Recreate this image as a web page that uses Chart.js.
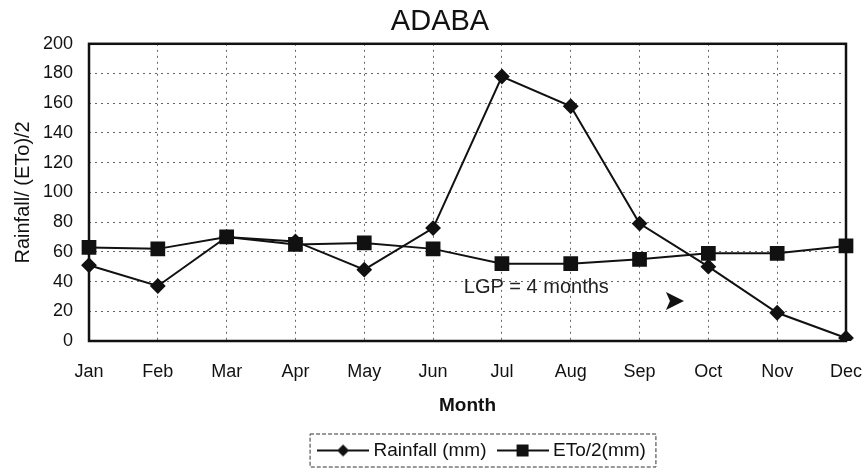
<!DOCTYPE html>
<html>
<head>
<meta charset="utf-8">
<script src="https://cdn.jsdelivr.net/npm/chart.js@4.4.1/dist/chart.umd.min.js"></script>
<style>
  html, body { margin: 0; padding: 0; background: #fff; }
  #wrap { width: 868px; height: 470px; }
</style>
</head>
<body>
<div id="wrap"><canvas id="adaba"></canvas></div>
<script>
const months = ['Jan', 'Feb', 'Mar', 'Apr', 'May', 'Jun', 'Jul', 'Aug', 'Sep', 'Oct', 'Nov', 'Dec'];
const rainfall = [51, 37, 70, 67, 48, 76, 178, 158, 79, 50, 19, 2];
const etoHalf = [63, 62, 70, 65, 66, 62, 52, 52, 55, 59, 59, 64];
const yTicks = [0, 20, 40, 60, 80, 100, 120, 140, 160, 180, 200];
// annotation anchors in data units (x = month index)
const lgpLabel = { text: 'LGP = 4 months', x: 6.5, y: 36 };
const lgpArrow = { x: 8.5, y: 27 };

Chart.defaults.font.family = '"Liberation Sans", Arial, sans-serif';
Chart.defaults.color = '#222';

// legend symbols: line with the marker in the middle
function legendSymbol(kind) {
  const c = document.createElement('canvas');
  c.width = 52; c.height = 14;
  const g = c.getContext('2d');
  g.strokeStyle = '#111'; g.fillStyle = '#111'; g.lineWidth = 2;
  g.beginPath(); g.moveTo(0, 7); g.lineTo(52, 7); g.stroke();
  if (kind === 'diamond') {
    g.beginPath(); g.moveTo(26, 1); g.lineTo(32, 7); g.lineTo(26, 13); g.lineTo(20, 7); g.closePath(); g.fill();
  } else {
    g.fillRect(20, 1, 12, 12);
  }
  return c;
}
const symbols = [legendSymbol('diamond'), legendSymbol('square')];

const extras = {
  id: 'extras',
  afterLayout(chart) {
    // the original sits legend and title a bit right of the page centre
    chart.legend.left += 61; chart.legend.right += 61;
    chart.titleBlock.left += 17; chart.titleBlock.right += 17;
  },
  beforeDatasetsDraw(chart) {
    const { ctx, chartArea: a } = chart;
    ctx.save();
    ctx.strokeStyle = '#111';
    ctx.lineWidth = 2.5;
    ctx.strokeRect(a.left, a.top, a.right - a.left, a.bottom - a.top);
    ctx.restore();
  },
  afterDatasetsDraw(chart) {
    const { ctx } = chart;
    const xs = chart.scales.x, ys = chart.scales.y;
    ctx.save();
    ctx.fillStyle = '#222';
    ctx.font = '20px "Liberation Sans", Arial, sans-serif';
    ctx.textAlign = 'center';
    ctx.textBaseline = 'middle';
    ctx.fillText(lgpLabel.text, xs.getPixelForValue(lgpLabel.x), ys.getPixelForValue(lgpLabel.y));
    const ax = xs.getPixelForValue(lgpArrow.x), ay = ys.getPixelForValue(lgpArrow.y);
    ctx.fillStyle = '#111';
    ctx.beginPath();
    ctx.moveTo(ax - 8, ay - 9);
    ctx.lineTo(ax + 10, ay);
    ctx.lineTo(ax - 8, ay + 9);
    ctx.lineTo(ax - 4, ay);
    ctx.closePath();
    ctx.fill();
    ctx.restore();
  },
  afterDraw(chart) {
    const lg = chart.legend;
    if (!lg || !lg.legendHitBoxes.length) return;
    const boxes = lg.legendHitBoxes;
    const last = boxes[boxes.length - 1];
    const l = boxes[0].left - 12;
    const r = last.left + last.width + 10;
    const t = boxes[0].top - 7;
    const b = boxes[0].top + boxes[0].height + 7;
    const ctx = chart.ctx;
    ctx.save();
    ctx.strokeStyle = '#333';
    ctx.lineWidth = 1;
    ctx.setLineDash([4, 2]);
    ctx.strokeRect(l, t, r - l, b - t);
    ctx.restore();
  }
};

new Chart(document.getElementById('adaba'), {
  type: 'line',
  data: {
    labels: months,
    datasets: [
      {
        label: 'Rainfall (mm)',
        data: rainfall,
        borderColor: '#111',
        backgroundColor: '#111',
        borderWidth: 2,
        pointStyle: 'rectRot',
        pointRadius: 6.5,
        pointHoverRadius: 6.5,
        tension: 0
      },
      {
        label: 'ETo/2(mm)',
        data: etoHalf,
        borderColor: '#111',
        backgroundColor: '#111',
        borderWidth: 2,
        pointStyle: 'rect',
        pointRadius: 9,
        pointHoverRadius: 9,
        tension: 0
      }
    ]
  },
  options: {
    responsive: true,
    maintainAspectRatio: false,
    animation: false,
    layout: { padding: { left: 0, right: 22, top: 5, bottom: 0 } },
    plugins: {
      title: {
        display: true,
        text: 'ADABA',
        color: '#111',
        font: { size: 29, weight: 'normal' },
        padding: { top: 0, bottom: 4 }
      },
      legend: {
        position: 'bottom',
        labels: {
          color: '#111',
          font: { size: 19 },
          usePointStyle: true,
          pointStyleWidth: 42,
          padding: 15,
          generateLabels(chart) {
            const items = Chart.defaults.plugins.legend.labels.generateLabels(chart);
            items.forEach((it, i) => { it.pointStyle = symbols[i]; });
            return items;
          }
        }
      },
      tooltip: { enabled: false }
    },
    scales: {
      x: {
        offset: false,
        afterFit(scale) { scale.height = 85; scale.paddingLeft = 0; scale.paddingRight = 0; },
        grid: { color: 'rgba(0,0,0,0.6)', lineWidth: 1, drawTicks: false },
        border: { display: false, dash: [2, 4] },
        ticks: { color: '#111', font: { size: 18 }, padding: 20, maxRotation: 0 },
        title: { display: true, text: 'Month', color: '#111', font: { size: 19, weight: 'bold' }, padding: { top: 10, bottom: 9 } }
      },
      y: {
        min: 0,
        max: 200,
        afterBuildTicks(scale) { scale.ticks = yTicks.map(v => ({ value: v })); },
        afterFit(scale) { scale.width = 89; },
        grid: { color: 'rgba(0,0,0,0.6)', lineWidth: 1, drawTicks: false },
        border: { display: false, dash: [2, 4] },
        ticks: { color: '#111', font: { size: 18 }, padding: 16 },
        title: { display: true, text: 'Rainfall/ (ETo)/2', color: '#111', font: { size: 20 }, padding: { top: 11, bottom: 0 } }
      }
    }
  },
  plugins: [extras]
});
</script>
</body>
</html>
